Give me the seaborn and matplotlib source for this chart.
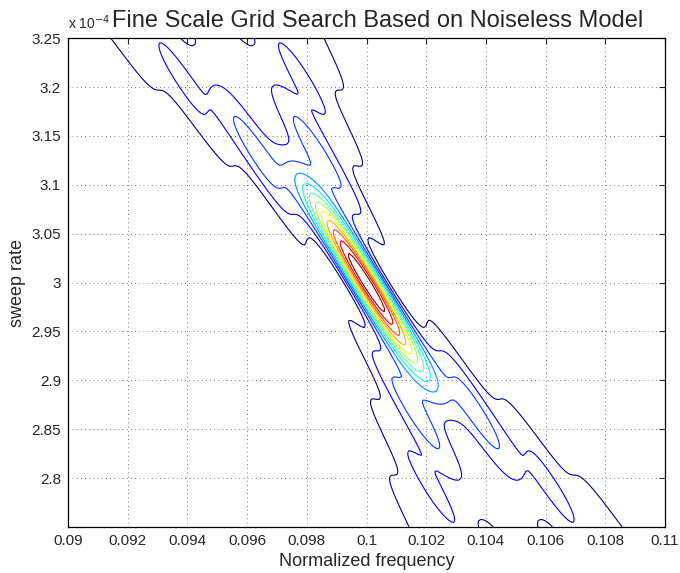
import numpy as np
import seaborn as sns
import matplotlib
matplotlib.use("Agg")
import matplotlib.pyplot as plt

# noiseless chirp model used for the grid search
f_true = 0.1
rate_true = 3.0e-4
n_samples = 1000
rate_scale = 0.2

freq_grid = np.linspace(0.09, 0.11, 241)
rate_grid = np.linspace(2.75e-4, 3.25e-4, 241)

x_ticks = [0.09, 0.092, 0.094, 0.096, 0.098, 0.1, 0.102, 0.104, 0.106, 0.108, 0.11]
x_labels = ['0.09', '0.092', '0.094', '0.096', '0.098', '0.1', '0.102', '0.104', '0.106', '0.108', '0.11']
y_ticks = [2.8, 2.85, 2.9, 2.95, 3.0, 3.05, 3.1, 3.15, 3.2, 3.25]
y_labels = ['2.8', '2.85', '2.9', '2.95', '3', '3.05', '3.1', '3.15', '3.2', '3.25']

n = np.arange(n_samples)
Z = np.zeros((len(rate_grid), len(freq_grid)))
for i, r in enumerate(rate_grid):
    ph = (freq_grid[:, None] - f_true) * n[None, :] + rate_scale * (r - rate_true) * n[None, :]**2
    Z[i] = np.abs(np.exp(2j * np.pi * ph).sum(1) / n_samples)**2

sns.set_style("white")
plt.rcParams['font.family'] = ['Liberation Sans', 'DejaVu Sans']

fig = plt.figure(figsize=(6.8, 5.73), dpi=100)
ax = fig.add_axes([0.1, 0.0803, 0.878, 0.853])
levels = np.linspace(0, 1, 14)[1:-1]
ax.contour(freq_grid, rate_grid * 1e4, Z, levels=levels, cmap='jet', linewidths=0.8)

ax.set_xlim(0.09, 0.11)
ax.set_ylim(2.75, 3.25)
ax.set_xticks(x_ticks)
ax.set_xticklabels(x_labels, fontsize=11)
ax.set_yticks(y_ticks)
ax.set_yticklabels(y_labels, fontsize=11)
ax.tick_params(direction='in', length=4, top=True, right=True, width=0.8, pad=5)
ax.grid(True, linestyle=(0, (1, 4)), color='k', linewidth=0.6, alpha=0.7)
for s in ax.spines.values():
    s.set_color('k')
    s.set_linewidth(0.9)

ax.set_xlabel('Normalized frequency', fontsize=13, labelpad=4)
ax.set_ylabel('sweep rate', fontsize=13, labelpad=4)
ax.set_title('Fine Scale Grid Search Based on Noiseless Model', fontsize=17, pad=8, x=0.518)
ax.text(0.0, 1.012, r'x 10$^{-4}$', transform=ax.transAxes, fontsize=10, ha='left', va='bottom')

fig.savefig("out.png", dpi=100)
